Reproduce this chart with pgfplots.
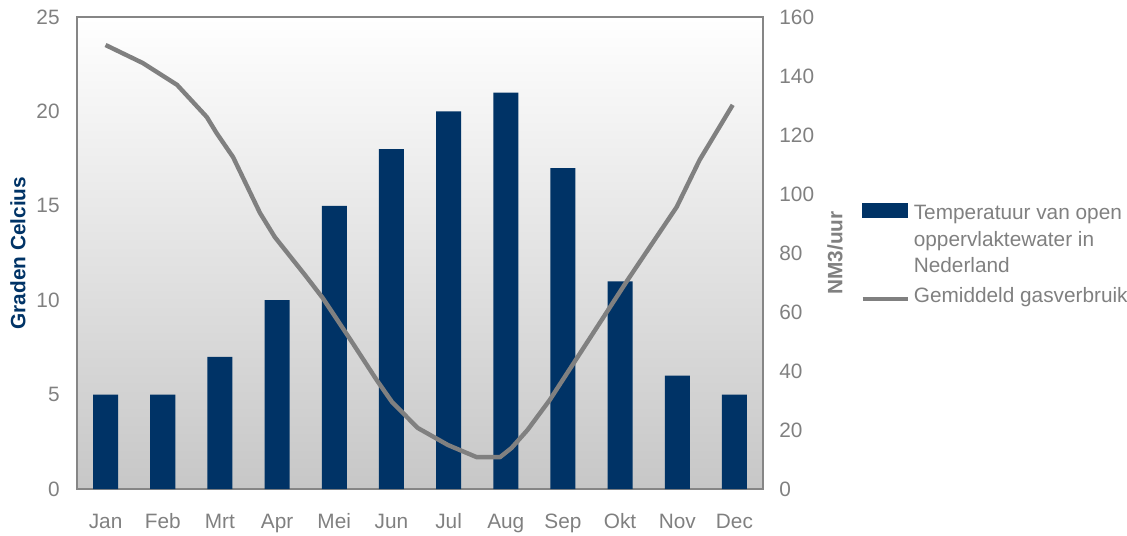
\documentclass[border=0pt]{standalone}
\usepackage{fontspec}
\setmainfont{Liberation Sans}
\usepackage{pgfplots}
\pgfplotsset{compat=1.18}

\definecolor{barblue}{RGB}{0,51,102}
\definecolor{linegray}{RGB}{128,128,128}
\definecolor{txtgray}{RGB}{128,128,128}
\definecolor{framegray}{RGB}{134,134,134}
\newcommand{\chartfont}{\fontsize{10.4}{13.25}\selectfont}

\begin{document}
\begin{tikzpicture}
\useasboundingbox (-38.5pt,-23pt) rectangle (525pt,244.5pt);
% left axis: water temperature (bars)
\begin{axis}[
  scale only axis, width=343pt, height=236pt,
  xmin=-0.5, xmax=11.5, ymin=0, ymax=25,
  xtick={0,...,11},
  xticklabels={Jan,Feb,Mrt,Apr,Mei,Jun,Jul,Aug,Sep,Okt,Nov,Dec},
  ytick={0,5,...,25},
  tick style={draw=none},
  axis line style={draw=framegray, line width=0.75pt},
  axis background/.style={top color=white, bottom color=black!22},
  /pgf/number format/assume math mode=true,
  tick label style={font=\chartfont, text=txtgray},
  yticklabel style={inner sep=0pt, anchor=east, xshift=-8.5pt},
  xticklabel style={inner sep=0pt, anchor=base, yshift=-19.5pt},
  ylabel={Graden Celcius},
  ylabel style={at={(axis description cs:-0.086,0.5)}, anchor=center, font=\chartfont\bfseries, text=barblue},
]
\addplot[ybar, bar width=12.5pt, fill=barblue, draw=none] coordinates {
  (0,5) (1,5) (2,7) (3,10) (4,15) (5,18)
  (6,20) (7,21) (8,17) (9,11) (10,6) (11,5)
};
\end{axis}
% right axis: gas usage (line)
\begin{axis}[
  scale only axis, width=343pt, height=236pt,
  xmin=-0.5, xmax=11.5, ymin=0, ymax=160,
  axis x line=none,
  axis y line*=right,
  ytick={0,20,...,160},
  tick style={draw=none},
  axis line style={draw=framegray, line width=0.75pt},
  /pgf/number format/assume math mode=true,
  tick label style={font=\chartfont, text=txtgray},
  yticklabel style={inner sep=0pt, anchor=west, xshift=8pt},
  ylabel={NM3/uur},
  ylabel style={at={(axis description cs:1.105,0.5)}, anchor=center, font=\chartfont\bfseries, text=txtgray},
  legend style={at={(axis description cs:1.1414,0.606)}, anchor=north west,
    draw=none, fill=none, inner sep=0pt, column sep=0pt, row sep=3.5pt,
    font=\chartfont, text=txtgray, cells={anchor=base west},
    nodes={inner sep=0pt, text height=7.5pt, text depth=2.25pt}},
]
\addlegendimage{legend image code/.code={\fill[barblue] (0pt,1pt) rectangle (22.5pt,8pt);}}
\addlegendentry{\kern2pt Temperatuur van open}
\addlegendimage{empty legend}
\addlegendentry{\kern2pt oppervlaktewater in}
\addlegendimage{empty legend}
\addlegendentry{\kern2pt Nederland}
\addplot[linegray, line width=2.2pt, line join=round,
  legend image code/.code={\path[draw=none, fill=none] (0pt,0pt) rectangle (22.5pt,9.25pt);
    \draw[linegray, line width=2.2pt] (0pt,1.75pt) -- (22.5pt,1.75pt);}]
  coordinates {
  (0,150.5) (0.65,144.4) (1.25,137.0) (1.77,126.1) (1.94,120.7) (2.23,112.5)
  (2.70,93.6) (2.96,85.4) (3.49,72.5) (3.80,64.7) (4.27,51.0) (4.74,37.0)
  (5.01,29.5) (5.46,20.7) (5.99,14.9) (6.49,10.8) (6.90,10.8) (7.10,13.9)
  (7.38,20.0) (7.77,30.2) (9.13,70.8) (9.99,95.6) (10.39,111.5) (10.97,130.2)
};
\addlegendentry{\kern2pt Gemiddeld gasverbruik}
\end{axis}
\end{tikzpicture}
\end{document}
